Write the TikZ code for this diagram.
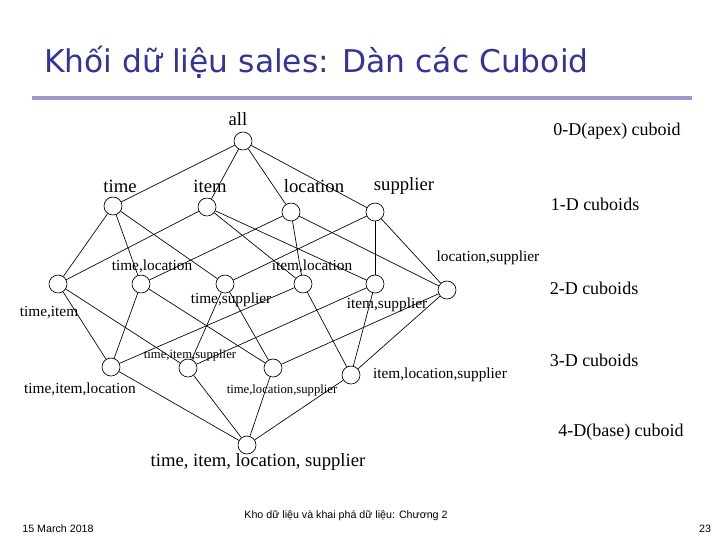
\documentclass[tikz,border=0pt]{standalone}
\usepackage{fontspec}
\setmainfont{Liberation Serif}
\newfontfamily\titlefont{DejaVu Sans}
\newfontfamily\footfont{Liberation Sans}
\definecolor{titleblue}{RGB}{51,51,153}
\begin{document}
\begin{tikzpicture}[x=0.75pt,y=-0.75pt,
  cub/.style={draw,circle,minimum size=13.5pt,inner sep=0pt,line width=0.5pt},
  lbl/.style={inner sep=0pt,font=\fontsize{14}{14}\selectfont},
  slbl/.style={inner sep=0pt,font=\fontsize{11.5}{11.5}\selectfont},
  tlbl/.style={inner sep=0pt,font=\fontsize{9.5}{9.5}\selectfont},
  rlbl/.style={inner sep=0pt,font=\fontsize{13.5}{13.5}\selectfont},
  edge/.style={line width=0.5pt}]
\useasboundingbox (0,0) rectangle (720,540);
\node[inner sep=0pt,anchor=west,text=titleblue,font=\titlefont\fontsize{23.5}{23.5}\selectfont] (title) at (44,62) {Khối dữ liệu sales: Dàn các Cuboid};
\draw[line width=2.3pt,color={rgb,255:red,153;green,153;blue,204}] (32,98) -- (692,98);
% nodes
\node[cub] (all) at (243,141) {};
\node[cub] (t) at (113,206) {};
\node[cub] (i) at (207,207) {};
\node[cub] (l) at (291,212) {};
\node[cub] (s) at (375,212) {};
\node[cub] (ti) at (58,284) {};
\node[cub] (tl) at (141,284) {};
\node[cub] (ts) at (225,284) {};
\node[cub] (il) at (303,284) {};
\node[cub] (is) at (375,284) {};
\node[cub] (ls) at (447,290) {};
\node[cub] (til) at (111,367) {};
\node[cub] (tis) at (188,368) {};
\node[cub] (tls) at (273,368) {};
\node[cub] (ils) at (351,375) {};
\node[cub] (tils) at (247,445) {};
% edges
\foreach \a/\b in {all/t,all/i,all/l,all/s,
  t/ti,t/tl,t/ts,i/ti,i/il,i/is,l/tl,l/il,l/ls,s/ts,s/is,s/ls,
  ti/til,ti/tis,tl/til,tl/tls,ts/tis,ts/tls,il/til,il/ils,is/tis,is/ils,ls/tls,ls/ils,
  til/tils,tis/tils,tls/tils,ils/tils}
  \draw[edge] (\a) -- (\b);
% labels
\node[lbl] (lall) at (238,119) {all};
\node[lbl] (lt) at (120,186) {time};
\node[lbl] (li) at (210,186) {item};
\node[lbl] (ll) at (314,186) {location};
\node[lbl] (ls2) at (404,186) {supplier};
\node[slbl] (ltl) at (152,266) {time,location};
\node[slbl] (lil) at (312,266) {item,location};
\node[slbl] (lls) at (488,258) {location,supplier};
\node[slbl] (lti) at (49,313) {time,item};
\node[slbl] (lts) at (231,300) {time,supplier};
\node[slbl] (lis) at (387,305) {item,supplier};
\node[slbl] (ltil) at (80,389) {time,item,location};
\node[tlbl] (ltis) at (190,355) {time,item,supplier};
\node[tlbl] (ltls) at (282,390) {time,location,supplier};
\node[slbl] (lils) at (440,375) {item,location,supplier};
\node[lbl] (ltils) at (258,462) {time, item, location, supplier};
% right labels
\node[rlbl] (r0) at (617,131) {0-D(apex) cuboid};
\node[rlbl] (r1) at (595,204) {1-D cuboids};
\node[rlbl] (r2) at (594,288) {2-D cuboids};
\node[rlbl] (r3) at (594,360) {3-D cuboids};
\node[rlbl] (r4) at (621,432) {4-D(base) cuboid};
% footer
\node[inner sep=0pt,font=\footfont\fontsize{8}{8}\selectfont] (f1) at (58,529) {15 March 2018};
\node[inner sep=0pt,font=\footfont\fontsize{8}{8}\selectfont] (f2) at (346,516) {Kho dữ liệu và khai phá dữ liệu: Chương 2};
\node[inner sep=0pt,font=\footfont\fontsize{8}{8}\selectfont] (f3) at (705,529) {23};
\end{tikzpicture}
\end{document}
